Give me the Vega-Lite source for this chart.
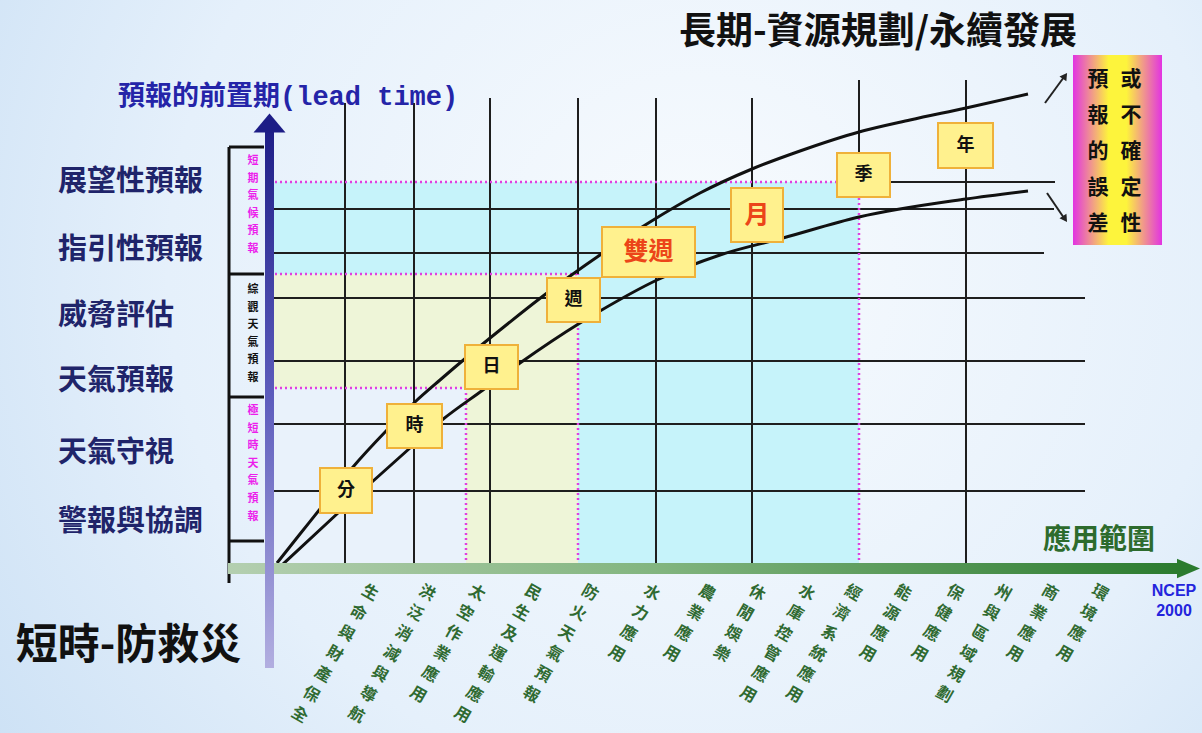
{
  "$schema": "https://vega.github.io/schema/vega-lite/v6.json",
  "width": 1202,
  "height": 733,
  "autosize": "none",
  "padding": 0,
  "background": "#dcebf8",
  "config": {"view": {"stroke": null}, "text": {"font": "Noto Sans CJK TC"}},
  "datasets": {
    "boxes": [
      {"label": "分", "tone": "normal", "x0": 32.0, "x1": 37.2, "y0": 22.0, "y1": 26.5},
      {"label": "時", "tone": "normal", "x0": 38.7, "x1": 44.2, "y0": 28.5, "y1": 32.9},
      {"label": "日", "tone": "normal", "x0": 46.5, "x1": 51.8, "y0": 34.4, "y1": 38.8},
      {"label": "週", "tone": "normal", "x0": 54.7, "x1": 60.0, "y0": 41.1, "y1": 45.5},
      {"label": "雙週", "tone": "accent", "x0": 60.2, "x1": 69.5, "y0": 45.6, "y1": 50.6},
      {"label": "月", "tone": "accent", "x0": 73.1, "x1": 78.3, "y0": 49.1, "y1": 54.5},
      {"label": "季", "tone": "normal", "x0": 83.7, "x1": 89.0, "y0": 53.6, "y1": 58.0},
      {"label": "年", "tone": "normal", "x0": 93.8, "x1": 99.3, "y0": 56.5, "y1": 61.0}
    ]
  },
  "layer": [
    {
      "data": {"values": [{"x": 0, "x2": 120.2, "y": 0, "y2": 73.3}]},
      "mark": {"type": "rect", "fill": {"gradient": "radial", "x1": 0.58, "y1": 0.42, "x2": 0.58, "y2": 0.42, "r1": 0, "r2": 0.8,
        "stops": [{"offset": 0, "color": "#f8fbfe"}, {"offset": 0.55, "color": "#e5f0fb"}, {"offset": 1, "color": "#c4dcf3"}]}},
      "encoding": {
        "x": {"field": "x", "type": "quantitative", "scale": {"domain": [0, 120.2], "nice": false, "zero": false}, "axis": null},
        "x2": {"field": "x2"},
        "y": {"field": "y", "type": "quantitative", "scale": {"domain": [0, 73.3], "nice": false, "zero": false}, "axis": null},
        "y2": {"field": "y2"}
      }
    },
    {
      "data": {"values": [
        {"zone": "climate", "x": 26.5, "x2": 85.9, "y": 16.8, "y2": 55.1},
        {"zone": "synoptic", "x": 26.5, "x2": 57.8, "y": 16.8, "y2": 45.9},
        {"zone": "nowcast", "x": 26.5, "x2": 46.6, "y": 16.8, "y2": 34.5}
      ]},
      "mark": {"type": "rect"},
      "encoding": {
        "x": {"field": "x", "type": "quantitative", "scale": {"domain": [0, 120.2], "nice": false, "zero": false}, "axis": null},
        "x2": {"field": "x2"},
        "y": {"field": "y", "type": "quantitative", "scale": {"domain": [0, 73.3], "nice": false, "zero": false}, "axis": null},
        "y2": {"field": "y2"},
        "color": {"field": "zone", "type": "nominal", "scale": {"domain": ["climate", "synoptic", "nowcast"], "range": ["#c6f3fa", "#eef5d8", "#e9f2fb"]}, "legend": null}
      }
    },
    {
      "data": {"values": [
        {"x": 34.5, "x2": 34.5, "y": 16.8, "y2": 63.0},
        {"x": 41.4, "x2": 41.4, "y": 16.8, "y2": 63.0},
        {"x": 49.0, "x2": 49.0, "y": 16.8, "y2": 63.5},
        {"x": 57.8, "x2": 57.8, "y": 45.9, "y2": 63.5},
        {"x": 65.6, "x2": 65.6, "y": 16.8, "y2": 63.5},
        {"x": 75.2, "x2": 75.2, "y": 16.8, "y2": 63.5},
        {"x": 85.9, "x2": 85.9, "y": 55.1, "y2": 65.3},
        {"x": 96.6, "x2": 96.6, "y": 16.8, "y2": 65.3},
        {"x": 85.9, "x2": 105.5, "y": 55.1, "y2": 55.1},
        {"x": 26.5, "x2": 105.4, "y": 52.4, "y2": 52.4},
        {"x": 26.5, "x2": 104.4, "y": 48.0, "y2": 48.0},
        {"x": 26.5, "x2": 108.5, "y": 43.5, "y2": 43.5},
        {"x": 26.5, "x2": 108.5, "y": 37.2, "y2": 37.2},
        {"x": 26.5, "x2": 108.5, "y": 30.9, "y2": 30.9},
        {"x": 26.5, "x2": 108.5, "y": 24.2, "y2": 24.2}
      ]},
      "mark": {"type": "rule", "color": "#1e1e1e", "strokeWidth": 2},
      "encoding": {
        "x": {"field": "x", "type": "quantitative", "scale": {"domain": [0, 120.2], "nice": false, "zero": false}, "axis": null},
        "x2": {"field": "x2"},
        "y": {"field": "y", "type": "quantitative", "scale": {"domain": [0, 73.3], "nice": false, "zero": false}, "axis": null},
        "y2": {"field": "y2"}
      }
    },
    {
      "data": {"values": [
        {"x": 26.5, "x2": 85.9, "y": 55.1, "y2": 55.1},
        {"x": 85.9, "x2": 85.9, "y": 16.8, "y2": 55.1},
        {"x": 26.5, "x2": 57.8, "y": 45.9, "y2": 45.9},
        {"x": 57.8, "x2": 57.8, "y": 16.8, "y2": 45.9},
        {"x": 26.5, "x2": 46.6, "y": 34.5, "y2": 34.5},
        {"x": 46.6, "x2": 46.6, "y": 16.8, "y2": 34.5}
      ]},
      "mark": {"type": "rule", "color": "#e040e0", "strokeWidth": 2.5, "strokeDash": [2, 3]},
      "encoding": {
        "x": {"field": "x", "type": "quantitative", "scale": {"domain": [0, 120.2], "nice": false, "zero": false}, "axis": null},
        "x2": {"field": "x2"},
        "y": {"field": "y", "type": "quantitative", "scale": {"domain": [0, 73.3], "nice": false, "zero": false}, "axis": null},
        "y2": {"field": "y2"}
      }
    },
    {
      "data": {"values": [
        {"x": 22.9, "x2": 22.9, "y": 15.0, "y2": 58.6},
        {"x": 22.9, "x2": 26.4, "y": 58.6, "y2": 58.6},
        {"x": 22.9, "x2": 26.4, "y": 45.9, "y2": 45.9},
        {"x": 22.9, "x2": 26.4, "y": 33.6, "y2": 33.6},
        {"x": 22.9, "x2": 26.4, "y": 19.2, "y2": 19.2}
      ]},
      "mark": {"type": "rule", "color": "#111111", "strokeWidth": 3},
      "encoding": {
        "x": {"field": "x", "type": "quantitative", "scale": {"domain": [0, 120.2], "nice": false, "zero": false}, "axis": null},
        "x2": {"field": "x2"},
        "y": {"field": "y", "type": "quantitative", "scale": {"domain": [0, 73.3], "nice": false, "zero": false}, "axis": null},
        "y2": {"field": "y2"}
      }
    },
    {
      "data": {"values": [
        {"curve": "upper", "x": 27.7, "y": 17.0}, {"curve": "upper", "x": 30.0, "y": 19.9},
        {"curve": "upper", "x": 32.0, "y": 22.4}, {"curve": "upper", "x": 35.3, "y": 26.6},
        {"curve": "upper", "x": 38.7, "y": 30.3}, {"curve": "upper", "x": 41.5, "y": 33.1},
        {"curve": "upper", "x": 44.0, "y": 35.3}, {"curve": "upper", "x": 46.7, "y": 37.6},
        {"curve": "upper", "x": 50.0, "y": 40.3}, {"curve": "upper", "x": 54.7, "y": 44.0},
        {"curve": "upper", "x": 60.0, "y": 47.8}, {"curve": "upper", "x": 65.0, "y": 51.1},
        {"curve": "upper", "x": 70.0, "y": 54.0}, {"curve": "upper", "x": 75.2, "y": 56.4},
        {"curve": "upper", "x": 80.0, "y": 58.2}, {"curve": "upper", "x": 85.9, "y": 60.1},
        {"curve": "upper", "x": 91.0, "y": 61.3}, {"curve": "upper", "x": 96.6, "y": 62.5},
        {"curve": "upper", "x": 102.8, "y": 63.9},
        {"curve": "lower", "x": 28.3, "y": 16.9}, {"curve": "lower", "x": 33.8, "y": 22.0},
        {"curve": "lower", "x": 37.2, "y": 25.1}, {"curve": "lower", "x": 41.0, "y": 28.5},
        {"curve": "lower", "x": 44.2, "y": 31.3}, {"curve": "lower", "x": 48.3, "y": 34.3},
        {"curve": "lower", "x": 52.0, "y": 37.0}, {"curve": "lower", "x": 58.0, "y": 41.0},
        {"curve": "lower", "x": 60.0, "y": 42.2}, {"curve": "lower", "x": 65.7, "y": 45.3},
        {"curve": "lower", "x": 72.0, "y": 47.8}, {"curve": "lower", "x": 78.3, "y": 49.5},
        {"curve": "lower", "x": 85.9, "y": 51.6}, {"curve": "lower", "x": 96.6, "y": 53.4},
        {"curve": "lower", "x": 102.8, "y": 54.2}
      ]},
      "mark": {"type": "line", "color": "#111111", "strokeWidth": 3, "interpolate": "monotone"},
      "encoding": {
        "x": {"field": "x", "type": "quantitative", "scale": {"domain": [0, 120.2], "nice": false, "zero": false}, "axis": null},
        "y": {"field": "y", "type": "quantitative", "scale": {"domain": [0, 73.3], "nice": false, "zero": false}, "axis": null},
        "detail": {"field": "curve", "type": "nominal"}
      }
    },
    {
      "data": {"values": [
        {"x": 104.5, "x2": 106.4, "y": 63.0, "y2": 65.6},
        {"x": 104.7, "x2": 106.4, "y": 54.0, "y2": 51.5}
      ]},
      "mark": {"type": "rule", "color": "#222222", "strokeWidth": 2},
      "encoding": {
        "x": {"field": "x", "type": "quantitative", "scale": {"domain": [0, 120.2], "nice": false, "zero": false}, "axis": null},
        "x2": {"field": "x2"},
        "y": {"field": "y", "type": "quantitative", "scale": {"domain": [0, 73.3], "nice": false, "zero": false}, "axis": null},
        "y2": {"field": "y2"}
      }
    },
    {
      "data": {"values": [
        {"x": 106.5, "y": 65.7, "heading": 35},
        {"x": 106.5, "y": 51.4, "heading": 146}
      ]},
      "mark": {"type": "point", "shape": "triangle-up", "filled": true, "color": "#222222", "size": 70, "opacity": 1},
      "encoding": {
        "x": {"field": "x", "type": "quantitative", "scale": {"domain": [0, 120.2], "nice": false, "zero": false}, "axis": null},
        "y": {"field": "y", "type": "quantitative", "scale": {"domain": [0, 73.3], "nice": false, "zero": false}, "axis": null},
        "angle": {"field": "heading", "type": "quantitative", "scale": null}
      }
    },
    {
      "data": {"name": "boxes"},
      "mark": {"type": "rect", "fill": "#fff18e", "stroke": "#efb13a", "strokeWidth": 2},
      "encoding": {
        "x": {"field": "x0", "type": "quantitative", "scale": {"domain": [0, 120.2], "nice": false, "zero": false}, "axis": null},
        "x2": {"field": "x1"},
        "y": {"field": "y0", "type": "quantitative", "scale": {"domain": [0, 73.3], "nice": false, "zero": false}, "axis": null},
        "y2": {"field": "y1"}
      }
    },
    {
      "data": {"name": "boxes"},
      "transform": [
        {"filter": "datum.tone === 'normal'"},
        {"calculate": "(datum.x0 + datum.x1) / 2", "as": "cx"},
        {"calculate": "(datum.y0 + datum.y1) / 2", "as": "cy"}
      ],
      "mark": {"type": "text", "fontSize": 18, "fontWeight": "bold", "color": "#111111", "align": "center", "baseline": "middle"},
      "encoding": {
        "x": {"field": "cx", "type": "quantitative", "scale": {"domain": [0, 120.2], "nice": false, "zero": false}, "axis": null},
        "y": {"field": "cy", "type": "quantitative", "scale": {"domain": [0, 73.3], "nice": false, "zero": false}, "axis": null},
        "text": {"field": "label"}
      }
    },
    {
      "data": {"name": "boxes"},
      "transform": [
        {"filter": "datum.tone === 'accent'"},
        {"calculate": "(datum.x0 + datum.x1) / 2", "as": "cx"},
        {"calculate": "(datum.y0 + datum.y1) / 2", "as": "cy"}
      ],
      "mark": {"type": "text", "fontSize": 25, "fontWeight": "bold", "color": "#ec4519", "align": "center", "baseline": "middle"},
      "encoding": {
        "x": {"field": "cx", "type": "quantitative", "scale": {"domain": [0, 120.2], "nice": false, "zero": false}, "axis": null},
        "y": {"field": "cy", "type": "quantitative", "scale": {"domain": [0, 73.3], "nice": false, "zero": false}, "axis": null},
        "text": {"field": "label"}
      }
    },
    {
      "data": {"values": [{"x": 22.8, "x2": 117.8, "y": 15.9, "y2": 17.0}]},
      "mark": {"type": "rect", "fill": {"gradient": "linear", "x1": 0, "y1": 0, "x2": 1, "y2": 0,
        "stops": [{"offset": 0, "color": "#b4cfb0"}, {"offset": 0.45, "color": "#82b57f"}, {"offset": 1, "color": "#2b7b2f"}]}},
      "encoding": {
        "x": {"field": "x", "type": "quantitative", "scale": {"domain": [0, 120.2], "nice": false, "zero": false}, "axis": null},
        "x2": {"field": "x2"},
        "y": {"field": "y", "type": "quantitative", "scale": {"domain": [0, 73.3], "nice": false, "zero": false}, "axis": null},
        "y2": {"field": "y2"}
      }
    },
    {
      "data": {"values": [{"x": 118.85, "y": 16.45}]},
      "mark": {"type": "point", "shape": "M-1,-0.85L1,0L-1,0.85Z", "filled": true, "color": "#2b7b2f", "size": 529, "opacity": 1},
      "encoding": {
        "x": {"field": "x", "type": "quantitative", "scale": {"domain": [0, 120.2], "nice": false, "zero": false}, "axis": null},
        "y": {"field": "y", "type": "quantitative", "scale": {"domain": [0, 73.3], "nice": false, "zero": false}, "axis": null}
      }
    },
    {
      "data": {"values": [{"x": 26.5, "x2": 27.4, "y": 6.5, "y2": 61.0}]},
      "mark": {"type": "rect", "fill": {"gradient": "linear", "x1": 0, "y1": 0, "x2": 0, "y2": 1,
        "stops": [{"offset": 0, "color": "#1d1d86"}, {"offset": 0.5, "color": "#5c5cbc"}, {"offset": 1, "color": "#b2aee0"}]}},
      "encoding": {
        "x": {"field": "x", "type": "quantitative", "scale": {"domain": [0, 120.2], "nice": false, "zero": false}, "axis": null},
        "x2": {"field": "x2"},
        "y": {"field": "y", "type": "quantitative", "scale": {"domain": [0, 73.3], "nice": false, "zero": false}, "axis": null},
        "y2": {"field": "y2"}
      }
    },
    {
      "data": {"values": [{"x": 26.95, "y": 61.0}]},
      "mark": {"type": "point", "shape": "M-1,0.6L0,-0.6L1,0.6Z", "filled": true, "color": "#1d1d86", "size": 1024, "opacity": 1},
      "encoding": {
        "x": {"field": "x", "type": "quantitative", "scale": {"domain": [0, 120.2], "nice": false, "zero": false}, "axis": null},
        "y": {"field": "y", "type": "quantitative", "scale": {"domain": [0, 73.3], "nice": false, "zero": false}, "axis": null}
      }
    },
    {
      "data": {"values": [
        {"label": "短期氣候預報", "x": 25.3, "y": 57.2},
        {"label": "極短時天氣預報", "x": 25.3, "y": 32.2}
      ]},
      "transform": [{"calculate": "split(datum.label, '')", "as": "chars"}],
      "mark": {"type": "text", "fontSize": 11, "fontWeight": "bold", "color": "#ec1fec", "align": "center", "baseline": "middle", "lineHeight": 17.6},
      "encoding": {
        "x": {"field": "x", "type": "quantitative", "scale": {"domain": [0, 120.2], "nice": false, "zero": false}, "axis": null},
        "y": {"field": "y", "type": "quantitative", "scale": {"domain": [0, 73.3], "nice": false, "zero": false}, "axis": null},
        "text": {"field": "chars"}
      }
    },
    {
      "data": {"values": [{"label": "綜觀天氣預報", "x": 25.3, "y": 44.3}]},
      "transform": [{"calculate": "split(datum.label, '')", "as": "chars"}],
      "mark": {"type": "text", "fontSize": 11, "fontWeight": "bold", "color": "#111111", "align": "center", "baseline": "middle", "lineHeight": 17.6},
      "encoding": {
        "x": {"field": "x", "type": "quantitative", "scale": {"domain": [0, 120.2], "nice": false, "zero": false}, "axis": null},
        "y": {"field": "y", "type": "quantitative", "scale": {"domain": [0, 73.3], "nice": false, "zero": false}, "axis": null},
        "text": {"field": "chars"}
      }
    },
    {
      "data": {"values": [
        {"label": "展望性預報", "x": 5.8, "y": 55.1},
        {"label": "指引性預報", "x": 5.8, "y": 48.3},
        {"label": "威脅評估", "x": 5.8, "y": 41.7},
        {"label": "天氣預報", "x": 5.8, "y": 35.2},
        {"label": "天氣守視", "x": 5.8, "y": 28.0},
        {"label": "警報與協調", "x": 5.8, "y": 21.1}
      ]},
      "mark": {"type": "text", "fontSize": 29, "fontWeight": "bold", "color": "#1f246a", "align": "left", "baseline": "middle"},
      "encoding": {
        "x": {"field": "x", "type": "quantitative", "scale": {"domain": [0, 120.2], "nice": false, "zero": false}, "axis": null},
        "y": {"field": "y", "type": "quantitative", "scale": {"domain": [0, 73.3], "nice": false, "zero": false}, "axis": null},
        "text": {"field": "label"}
      }
    },
    {
      "data": {"values": [{"label": "長期-資源規劃/永續發展", "x": 87.8, "y": 70.0}]},
      "mark": {"type": "text", "fontSize": 37, "fontWeight": "bold", "color": "#111111", "align": "center", "baseline": "middle"},
      "encoding": {
        "x": {"field": "x", "type": "quantitative", "scale": {"domain": [0, 120.2], "nice": false, "zero": false}, "axis": null},
        "y": {"field": "y", "type": "quantitative", "scale": {"domain": [0, 73.3], "nice": false, "zero": false}, "axis": null},
        "text": {"field": "label"}
      }
    },
    {
      "data": {"values": [{"label": "短時-防救災", "x": 12.85, "y": 8.7}]},
      "mark": {"type": "text", "fontSize": 42, "fontWeight": "bold", "color": "#111111", "align": "center", "baseline": "middle"},
      "encoding": {
        "x": {"field": "x", "type": "quantitative", "scale": {"domain": [0, 120.2], "nice": false, "zero": false}, "axis": null},
        "y": {"field": "y", "type": "quantitative", "scale": {"domain": [0, 73.3], "nice": false, "zero": false}, "axis": null},
        "text": {"field": "label"}
      }
    },
    {
      "data": {"values": [{"label": "預報的前置期(lead time)", "x": 11.8, "y": 63.6}]},
      "mark": {"type": "text", "font": "Liberation Mono, Noto Sans CJK TC", "fontSize": 27, "fontWeight": "bold", "color": "#2424a8", "align": "left", "baseline": "middle"},
      "encoding": {
        "x": {"field": "x", "type": "quantitative", "scale": {"domain": [0, 120.2], "nice": false, "zero": false}, "axis": null},
        "y": {"field": "y", "type": "quantitative", "scale": {"domain": [0, 73.3], "nice": false, "zero": false}, "axis": null},
        "text": {"field": "label"}
      }
    },
    {
      "data": {"values": [{"label": "應用範圍", "x": 109.9, "y": 19.2}]},
      "mark": {"type": "text", "fontSize": 28, "fontWeight": "bold", "color": "#2d6b2d", "align": "center", "baseline": "middle"},
      "encoding": {
        "x": {"field": "x", "type": "quantitative", "scale": {"domain": [0, 120.2], "nice": false, "zero": false}, "axis": null},
        "y": {"field": "y", "type": "quantitative", "scale": {"domain": [0, 73.3], "nice": false, "zero": false}, "axis": null},
        "text": {"field": "label"}
      }
    },
    {
      "data": {"values": [{"label": "NCEP", "x": 117.4, "y": 14.2}, {"label": "2000", "x": 117.4, "y": 12.2}]},
      "mark": {"type": "text", "font": "Liberation Sans", "fontSize": 16, "fontWeight": "bold", "color": "#2424dd", "align": "center", "baseline": "middle"},
      "encoding": {
        "x": {"field": "x", "type": "quantitative", "scale": {"domain": [0, 120.2], "nice": false, "zero": false}, "axis": null},
        "y": {"field": "y", "type": "quantitative", "scale": {"domain": [0, 73.3], "nice": false, "zero": false}, "axis": null},
        "text": {"field": "label"}
      }
    },
    {
      "data": {"values": [
        {"label": "生命與財產保全", "x": 37.4, "y": 14.7},
        {"label": "洪泛消減與導航", "x": 43.1, "y": 14.7},
        {"label": "太空作業應用", "x": 48.1, "y": 14.7},
        {"label": "民生及運輸應用", "x": 53.7, "y": 14.7},
        {"label": "防火天氣預報", "x": 59.4, "y": 14.7},
        {"label": "水力應用", "x": 65.6, "y": 14.7},
        {"label": "農業應用", "x": 71.1, "y": 14.7},
        {"label": "休閒娛樂", "x": 76.1, "y": 14.7},
        {"label": "水庫控管應用", "x": 81.1, "y": 14.7},
        {"label": "經濟系統應用", "x": 85.7, "y": 14.7},
        {"label": "能源應用", "x": 90.7, "y": 14.7},
        {"label": "保健應用", "x": 95.9, "y": 14.7},
        {"label": "州與區域規劃", "x": 100.7, "y": 14.7},
        {"label": "商業應用", "x": 105.4, "y": 14.7},
        {"label": "環境應用", "x": 110.4, "y": 14.7}
      ]},
      "transform": [{"calculate": "split(datum.label, '')", "as": "chars"}],
      "mark": {"type": "text", "fontSize": 16, "fontWeight": "bold", "color": "#2f6a31", "align": "center", "baseline": "top", "angle": 30, "lineHeight": 23.5},
      "encoding": {
        "x": {"field": "x", "type": "quantitative", "scale": {"domain": [0, 120.2], "nice": false, "zero": false}, "axis": null},
        "y": {"field": "y", "type": "quantitative", "scale": {"domain": [0, 73.3], "nice": false, "zero": false}, "axis": null},
        "text": {"field": "chars"}
      }
    },
    {
      "data": {"values": [{"x": 107.3, "x2": 116.2, "y": 48.8, "y2": 67.8}]},
      "mark": {"type": "rect", "fill": {"gradient": "linear", "x1": 0, "y1": 0, "x2": 1, "y2": 0,
        "stops": [{"offset": 0, "color": "#e233e2"}, {"offset": 0.4, "color": "#fdf43c"}, {"offset": 0.6, "color": "#fdf43c"}, {"offset": 1, "color": "#e233e2"}]}},
      "encoding": {
        "x": {"field": "x", "type": "quantitative", "scale": {"domain": [0, 120.2], "nice": false, "zero": false}, "axis": null},
        "x2": {"field": "x2"},
        "y": {"field": "y", "type": "quantitative", "scale": {"domain": [0, 73.3], "nice": false, "zero": false}, "axis": null},
        "y2": {"field": "y2"}
      }
    },
    {
      "data": {"values": [
        {"label": "預報的誤差", "x": 109.8, "y": 65.3},
        {"label": "或不確定性", "x": 113.1, "y": 65.3}
      ]},
      "transform": [{"calculate": "split(datum.label, '')", "as": "chars"}],
      "mark": {"type": "text", "fontSize": 21, "fontWeight": "bold", "color": "#111111", "align": "center", "baseline": "middle", "lineHeight": 36},
      "encoding": {
        "x": {"field": "x", "type": "quantitative", "scale": {"domain": [0, 120.2], "nice": false, "zero": false}, "axis": null},
        "y": {"field": "y", "type": "quantitative", "scale": {"domain": [0, 73.3], "nice": false, "zero": false}, "axis": null},
        "text": {"field": "chars"}
      }
    }
  ]
}
